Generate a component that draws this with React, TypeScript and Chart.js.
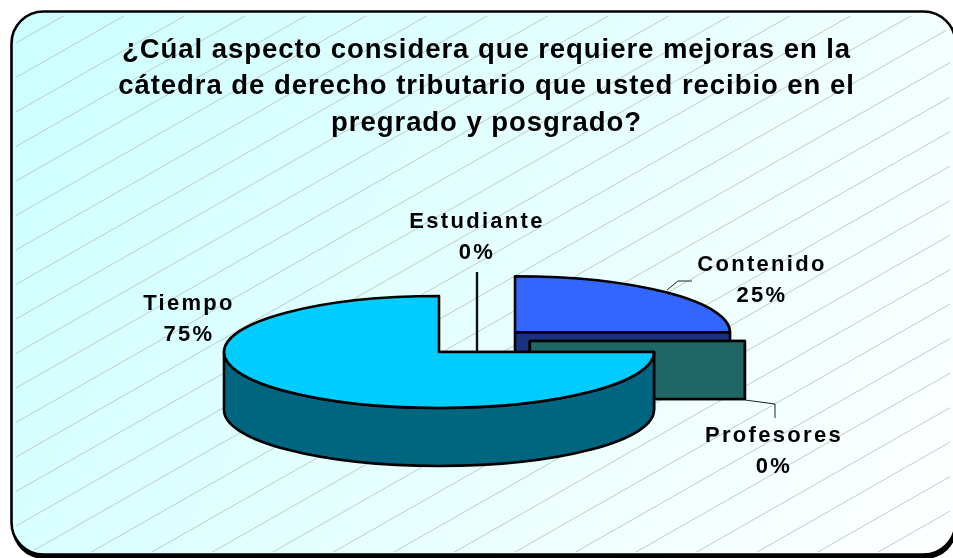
import React, { useEffect, useRef } from "react";
import { Chart, registerables } from "chart.js";

Chart.register(...registerables);

const titleLines = [
  "¿Cúal aspecto considera que requiere mejoras en la",
  "cátedra de derecho tributario que usted recibio en el",
  "pregrado y posgrado?",
];
const categories = ["Contenido", "Profesores", "Tiempo", "Estudiante"];
const values = [25, 0, 75, 0];
const faceColors = ["#3366ff", "#339999", "#00ccff", "#9999ff"];
const wallColors = ["#1a3380", "#1f6666", "#006680", "#4d4d80"];

const W = 953;
const H = 558;
const PIE_X = 439;
const PIE_Y = 352;
const RADIUS = 100;
const SX = 2.15;
const SY = 0.56;
const DEPTH = 58;
const FONT = "'Liberation Sans', Arial, sans-serif";

const offsets = [200, 169, 0, 0];
const lifts = [0, -11, 0, 0];
const labelPos = [
  { x: 762, y: 265 },
  { x: 774, y: 436 },
  { x: 189, y: 304 },
  { x: 477, y: 222 },
];
const leaders = [
  [[667, 290], [678, 281], [692, 281]],
  [[745, 400], [775, 404], [775, 418]],
  [],
  [[477, 272], [477, 352]],
];

const frame = {
  id: "frame",
  beforeDraw(chart: any) {
    const ctx = chart.ctx;
    ctx.save();
    ctx.fillStyle = "#000";
    ctx.beginPath();
    ctx.roundRect(12, 14, 945, 545, 32);
    ctx.fill();
    const g = ctx.createLinearGradient(10, 10, 955, 555);
    g.addColorStop(0, "#ccffff");
    g.addColorStop(1, "#ffffff");
    ctx.fillStyle = g;
    ctx.beginPath();
    ctx.roundRect(11.5, 11.5, 944, 543, 32);
    ctx.fill();
    ctx.save();
    ctx.beginPath();
    ctx.roundRect(16, 16, 934, 536, 28);
    ctx.clip();
    ctx.strokeStyle = "#bcc4c4";
    ctx.lineWidth = 0.9;
    const slope = 0.57;
    const gap = 34.5;
    for (let n = -1; n < 48; n++) {
      const y0 = 43 + n * gap;
      ctx.beginPath();
      ctx.moveTo(16, y0);
      ctx.lineTo(953, y0 - slope * (953 - 16));
      ctx.stroke();
    }
    ctx.restore();
    ctx.strokeStyle = "#000";
    ctx.lineWidth = 2.6;
    ctx.beginPath();
    ctx.roundRect(11.5, 11.5, 944, 543, 32);
    ctx.stroke();
    ctx.restore();
    ctx.letterSpacing = "0.95px";
  },
};

function geometry(el: any, i: number) {
  const off = (offsets[i] || 0) / 4;
  const mid = (el.startAngle + el.endAngle) / 2;
  return {
    cx: PIE_X + Math.cos(mid) * off * SX,
    cy: PIE_Y + Math.sin(mid) * off * SY + lifts[i],
    rx: el.outerRadius * SX,
    ry: el.outerRadius * SY,
    a0: el.startAngle,
    a1: el.endAngle,
  };
}

const pie3d = {
  id: "pie3d",
  beforeDatasetsDraw(chart: any) {
    const ctx = chart.ctx;
    const arcs = chart.getDatasetMeta(0).data;
    ctx.save();
    ctx.lineWidth = 2.6;
    ctx.lineJoin = "round";
    ctx.strokeStyle = "#000";
    arcs.forEach((el: any, i: number) => {
      const { cx, cy, rx, ry, a0, a1 } = geometry(el, i);
      ctx.fillStyle = wallColors[i];
      [a0, a1].forEach((a) => {
        if (Math.abs(Math.cos(a)) < 0.01) return;
        const ex = cx + Math.cos(a) * rx;
        const ey = cy + Math.sin(a) * ry;
        ctx.beginPath();
        ctx.moveTo(cx, cy);
        ctx.lineTo(ex, ey);
        ctx.lineTo(ex, ey + DEPTH);
        ctx.lineTo(cx, cy + DEPTH);
        ctx.closePath();
        ctx.fill();
        ctx.stroke();
      });
      const from = Math.max(a0, 0);
      const to = Math.min(a1, Math.PI);
      if (to > from) {
        ctx.beginPath();
        ctx.ellipse(cx, cy, rx, ry, 0, from, to, false);
        ctx.ellipse(cx, cy + DEPTH, rx, ry, 0, to, from, true);
        ctx.closePath();
        ctx.fill();
        ctx.stroke();
      }
    });
    ctx.restore();
    const base = arcs[2];
    ctx.save();
    ctx.translate(PIE_X, PIE_Y);
    ctx.scale(SX, SY);
    ctx.translate(-base.x, -base.y);
  },
  afterDatasetsDraw(chart: any) {
    const ctx = chart.ctx;
    ctx.restore();
    const arcs = chart.getDatasetMeta(0).data;
    const total = values.reduce((a, b) => a + b, 0);
    ctx.save();
    ctx.lineWidth = 2.6;
    ctx.lineJoin = "round";
    ctx.strokeStyle = "#000";
    arcs.forEach((el: any, i: number) => {
      if (values[i] === 0) return;
      const { cx, cy, rx, ry, a0, a1 } = geometry(el, i);
      ctx.beginPath();
      ctx.moveTo(cx, cy);
      ctx.ellipse(cx, cy, rx, ry, 0, a0, a1, false);
      ctx.closePath();
      ctx.stroke();
    });
    leaders.forEach((pts, i) => {
      if (!pts.length) return;
      ctx.lineWidth = i === 3 ? 2.4 : 1;
      ctx.strokeStyle = i === 3 ? "#111" : "#222";
      ctx.beginPath();
      pts.forEach(([x, y], k) => (k ? ctx.lineTo(x, y) : ctx.moveTo(x, y)));
      ctx.stroke();
    });
    ctx.fillStyle = "#000";
    ctx.textAlign = "center";
    ctx.textBaseline = "middle";
    ctx.font = `bold 22px ${FONT}`;
    ctx.letterSpacing = "2.3px";
    categories.forEach((name, i) => {
      const p = labelPos[i];
      ctx.fillText(name, p.x, p.y);
      ctx.fillText(`${Math.round((values[i] / total) * 100)}%`, p.x, p.y + 30.5);
    });
    ctx.restore();
  },
};

export default function App() {
  const ref = useRef<HTMLCanvasElement>(null);
  useEffect(() => {
    const canvas = ref.current!;
    const chart = new Chart(canvas, {
      type: "pie",
      data: {
        labels: categories,
        datasets: [
          {
            data: values,
            backgroundColor: faceColors,
            borderWidth: 0,
            offset: offsets,
            radius: RADIUS,
            clip: false,
          } as any,
        ],
      },
      options: {
        responsive: false,
        animation: false,
        layout: { padding: { left: 20, top: 24 } },
        plugins: {
          legend: { display: false },
          tooltip: { enabled: false },
          title: {
            display: true,
            text: titleLines,
            color: "#000",
            font: { family: FONT, size: 27.5, weight: "bold", lineHeight: 1.33 },
            padding: { top: 8, bottom: 8 },
          },
        },
      },
      plugins: [frame, pie3d],
    } as any);
    return () => chart.destroy();
  }, []);
  return (
    <div style={{ position: "fixed", left: 0, top: 0, width: W, height: H, overflow: "hidden" }}>
      <canvas ref={ref} width={W} height={H} style={{ display: "block" }} />
    </div>
  );
}
